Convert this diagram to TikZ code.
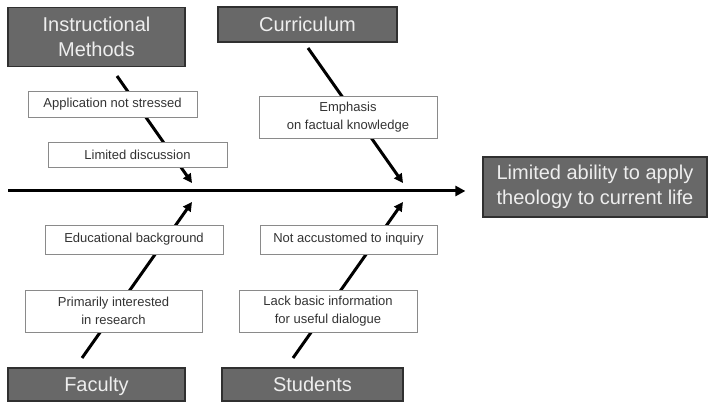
\documentclass[tikz,border=0pt]{standalone}
\usepackage{fontspec}
\setmainfont{Liberation Sans}
\usetikzlibrary{arrows.meta}
\definecolor{darkfill}{HTML}{686868}
\definecolor{darkline}{HTML}{303030}
\definecolor{lighttext}{HTML}{EEEEEE}
\definecolor{boxline}{HTML}{8A8A8A}
\begin{document}
\begin{tikzpicture}[x=1pt,y=-1pt,
  category/.style={draw=darkline,line width=1.2pt,fill=darkfill,text=lighttext,
    inner sep=0pt,align=center,font=\fontsize{20}{25}\selectfont},
  oneline/.style={text height=15pt,text depth=1pt},
  cause/.style={draw=boxline,line width=0.8pt,fill=white,text=black!80,
    inner sep=0pt,align=center,font=\fontsize{13}{18}\selectfont},
  bone/.style={line width=3pt,-{Triangle[length=9pt,width=9pt]}},
  spine/.style={line width=3pt,-{Triangle[length=10pt,width=10pt]}}]
\useasboundingbox (0,0) rectangle (712,403);
% category boxes
\node[category,minimum width=177pt,minimum height=59pt] (im) at (96.5,37) {Instructional\\Methods};
\node[category,oneline,minimum width=179pt,minimum height=35pt] (cur) at (307.5,24.5) {Curriculum};
\node[category,minimum width=224pt,minimum height=60pt] (res) at (595,187) {Limited ability to apply\\theology to current life};
\node[category,oneline,minimum width=177pt,minimum height=33pt] (fac) at (96.5,384.5) {Faculty};
\node[category,oneline,minimum width=181pt,minimum height=33pt] (stu) at (312.5,384.5) {Students};
% bone coordinates
\coordinate (s0) at (8,191);
\coordinate (a1) at (117,76);  \coordinate (t1) at (192,183);
\coordinate (a2) at (308,48);  \coordinate (t2) at (403,183);
\coordinate (a3) at (82,358);  \coordinate (t3) at (192,202);
\coordinate (a4) at (293,358); \coordinate (t4) at (403,202);
% arrows
\draw[spine,shorten >=17pt] (s0) -- (s0 -| res.west);
\draw[bone] (a1) -- (t1);
\draw[bone] (a2) -- (t2);
\draw[bone] (a3) -- (t3);
\draw[bone] (a4) -- (t4);
% cause boxes
\node[cause,minimum width=169pt,minimum height=26pt] (app) at (112.5,104) {Application not stressed};
\node[cause,minimum width=179pt,minimum height=25pt] (disc) at (137.5,154.5) {Limited discussion};
\node[cause,minimum width=178pt,minimum height=42pt] (emph) at (348,117) {Emphasis\\on factual knowledge};
\node[cause,minimum width=178pt,minimum height=29pt] (edu) at (134,239.5) {Educational background};
\node[cause,minimum width=177pt,minimum height=42pt] (prim) at (113.5,311) {Primarily interested\\in research};
\node[cause,minimum width=177pt,minimum height=29pt] (inq) at (348.5,239.5) {Not accustomed to inquiry};
\node[cause,minimum width=178pt,minimum height=42pt] (lack) at (328,311) {Lack basic information\\for useful dialogue};
\end{tikzpicture}
\end{document}
